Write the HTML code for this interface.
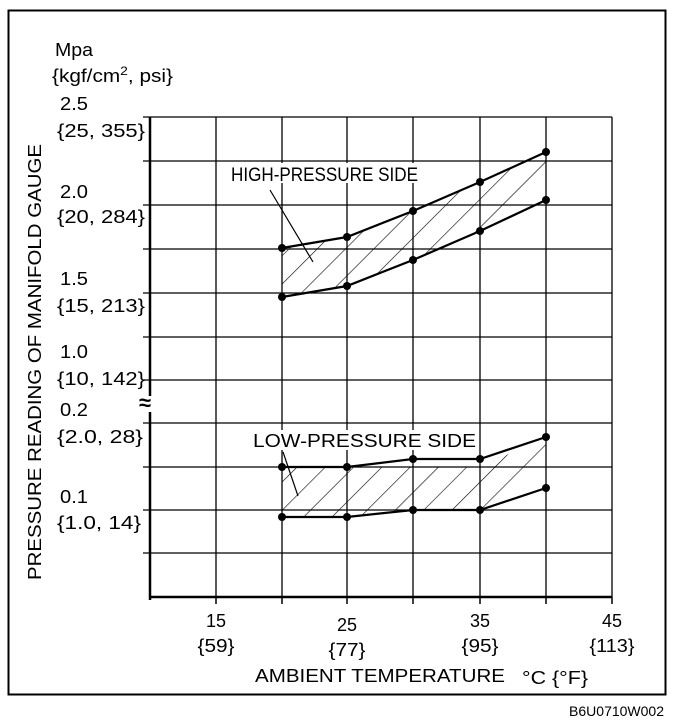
<!DOCTYPE html>
<html><head><style>body{margin:0;background:#fff}svg{display:block}text{font-family:"Liberation Sans",sans-serif;fill:#000}</style></head><body>
<svg width="688" height="726" viewBox="0 0 688 726" xmlns="http://www.w3.org/2000/svg">
<defs><pattern id="h" patternUnits="userSpaceOnUse" width="20" height="20" patternTransform="rotate(45)"><line x1="0" y1="0" x2="0" y2="20" stroke="#000" stroke-width="1.2"/></pattern></defs>
<rect x="8.5" y="10.5" width="657" height="684" fill="none" stroke="#000" stroke-width="2"/>
<g stroke="#000" stroke-width="1.3">
<line x1="216" y1="117" x2="216" y2="597"/><line x1="282" y1="117" x2="282" y2="597"/><line x1="347" y1="117" x2="347" y2="597"/><line x1="413" y1="117" x2="413" y2="597"/><line x1="480" y1="117" x2="480" y2="597"/><line x1="546" y1="117" x2="546" y2="597"/><line x1="612" y1="117" x2="612" y2="597"/>
<line x1="143" y1="117" x2="612" y2="117"/><line x1="143" y1="161" x2="612" y2="161"/><line x1="143" y1="205" x2="612" y2="205"/><line x1="143" y1="249" x2="612" y2="249"/><line x1="143" y1="293" x2="612" y2="293"/><line x1="143" y1="337" x2="612" y2="337"/><line x1="143" y1="380" x2="612" y2="380"/><line x1="143" y1="423" x2="612" y2="423"/><line x1="143" y1="467" x2="612" y2="467"/><line x1="143" y1="510" x2="612" y2="510"/><line x1="143" y1="553" x2="612" y2="553"/>
</g>
<g stroke="#000" stroke-width="2.5"><line x1="150" y1="117" x2="150" y2="600"/><line x1="150" y1="597" x2="612" y2="597"/></g>
<g stroke="#000" stroke-width="1.5"><line x1="216" y1="597" x2="216" y2="604"/><line x1="282" y1="597" x2="282" y2="604"/><line x1="347" y1="597" x2="347" y2="604"/><line x1="413" y1="597" x2="413" y2="604"/><line x1="480" y1="597" x2="480" y2="604"/><line x1="546" y1="597" x2="546" y2="604"/><line x1="612" y1="597" x2="612" y2="604"/></g>
<rect x="139" y="396" width="22" height="16" fill="#fff"/>
<text x="139" y="410" font-size="22" font-weight="bold">≈</text>
<polygon points="282,248 347,237 413,211 480,182 546,152 546,185 480,231 413,260 347,286 282,297" fill="url(#h)"/>
<polygon points="282,467 480,467 546,437 546,467 480,510 413,510 347,517 282,517" fill="url(#h)"/>
<g fill="none" stroke="#000" stroke-width="2.2">
<polyline points="282,248 347,237 413,211 480,182 546,152"/><polyline points="282,297 347,286 413,260 480,231 546,200"/>
<polyline points="282,467 347,467 413,459 480,459 546,437"/><polyline points="282,517 347,517 413,510 480,510 546,488"/>
</g>
<g fill="#000"><circle cx="282" cy="248" r="4"/><circle cx="347" cy="237" r="4"/><circle cx="413" cy="211" r="4"/><circle cx="480" cy="182" r="4"/><circle cx="546" cy="152" r="4"/><circle cx="282" cy="297" r="4"/><circle cx="347" cy="286" r="4"/><circle cx="413" cy="260" r="4"/><circle cx="480" cy="231" r="4"/><circle cx="546" cy="200" r="4"/><circle cx="282" cy="467" r="4"/><circle cx="347" cy="467" r="4"/><circle cx="413" cy="459" r="4"/><circle cx="480" cy="459" r="4"/><circle cx="546" cy="437" r="4"/><circle cx="282" cy="517" r="4"/><circle cx="347" cy="517" r="4"/><circle cx="413" cy="510" r="4"/><circle cx="480" cy="510" r="4"/><circle cx="546" cy="488" r="4"/></g>
<g stroke="#000" stroke-width="1.2"><line x1="270" y1="190" x2="313" y2="262"/><line x1="283" y1="452" x2="298" y2="496"/></g>
<rect x="229" y="163" width="191" height="20" fill="#fff"/>
<text x="231" y="181" font-size="19" textLength="187" lengthAdjust="spacingAndGlyphs">HIGH-PRESSURE SIDE</text>
<rect x="251" y="430" width="226" height="20" fill="#fff"/>
<text x="253" y="447" font-size="18" textLength="223" lengthAdjust="spacingAndGlyphs">LOW-PRESSURE SIDE</text>
<g font-size="18">
<text x="55" y="56" textLength="38" lengthAdjust="spacingAndGlyphs">Mpa</text>
<text x="52" y="82" textLength="121" lengthAdjust="spacingAndGlyphs">{kgf/cm<tspan font-size="12" dy="-7">2</tspan><tspan dy="7">, psi}</tspan></text>
<text x="60" y="110" textLength="28" lengthAdjust="spacingAndGlyphs">2.5</text><text x="57" y="137" textLength="88" lengthAdjust="spacingAndGlyphs">{25, 355}</text>
<text x="60" y="198" textLength="28" lengthAdjust="spacingAndGlyphs">2.0</text><text x="57" y="223" textLength="88" lengthAdjust="spacingAndGlyphs">{20, 284}</text>
<text x="60" y="285" textLength="28" lengthAdjust="spacingAndGlyphs">1.5</text><text x="57" y="312" textLength="88" lengthAdjust="spacingAndGlyphs">{15, 213}</text>
<text x="60" y="358" textLength="28" lengthAdjust="spacingAndGlyphs">1.0</text><text x="57" y="385" textLength="88" lengthAdjust="spacingAndGlyphs">{10, 142}</text>
<text x="60" y="416" textLength="28" lengthAdjust="spacingAndGlyphs">0.2</text><text x="57" y="443" textLength="86" lengthAdjust="spacingAndGlyphs">{2.0, 28}</text>
<text x="60" y="503" textLength="28" lengthAdjust="spacingAndGlyphs">0.1</text><text x="57" y="529" textLength="84" lengthAdjust="spacingAndGlyphs">{1.0, 14}</text>
<g text-anchor="middle">
<text x="216" y="627">15</text><text x="216" y="652" textLength="37" lengthAdjust="spacingAndGlyphs">{59}</text>
<text x="347" y="631">25</text><text x="347" y="656" textLength="37" lengthAdjust="spacingAndGlyphs">{77}</text>
<text x="480" y="627">35</text><text x="480" y="652" textLength="37" lengthAdjust="spacingAndGlyphs">{95}</text>
<text x="612" y="627">45</text><text x="612" y="652" textLength="45" lengthAdjust="spacingAndGlyphs">{113}</text>
</g>
<text x="255" y="682" textLength="250" lengthAdjust="spacingAndGlyphs">AMBIENT TEMPERATURE</text>
<text x="522" y="684" textLength="66" lengthAdjust="spacingAndGlyphs">°C {°F}</text>
<text transform="translate(41,580) rotate(-90)" textLength="436" lengthAdjust="spacingAndGlyphs">PRESSURE READING OF MANIFOLD GAUGE</text>
</g>
<text x="664" y="716" font-size="14" text-anchor="end">B6U0710W002</text>
</svg>
</body></html>
